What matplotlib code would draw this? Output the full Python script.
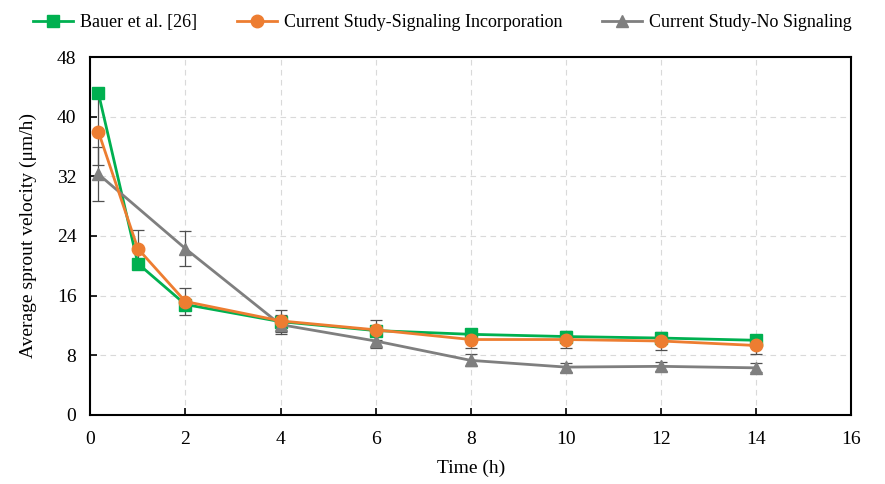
import numpy as np
import matplotlib.pyplot as plt

plt.rcParams['font.family'] = ['Liberation Serif', 'DejaVu Serif']

# data
t_bauer = [0.17, 1, 2, 4, 6, 8, 10, 12, 14]
v_bauer = [43.2, 20.3, 14.8, 12.5, 11.3, 10.8, 10.5, 10.3, 10.0]

t_sig = [0.17, 1, 2, 4, 6, 8, 10, 12, 14]
v_sig = [38.0, 22.3, 15.2, 12.6, 11.4, 10.1, 10.1, 9.9, 9.3]
e_sig = [4.5, 2.5, 1.8, 1.5, 1.3, 1.2, 1.2, 1.2, 1.2]

t_nosig = [0.17, 2, 4, 6, 8, 10, 12, 14]
v_nosig = [32.3, 22.3, 12.1, 9.9, 7.3, 6.4, 6.5, 6.3]
e_nosig = [3.6, 2.3, 1.3, 1.0, 0.8, 0.6, 0.6, 0.6]

fig = plt.figure(figsize=(8.85, 4.84), dpi=100)
ax = fig.add_axes([0.102, 0.143, 0.86, 0.739])

ax.errorbar(t_nosig, v_nosig, yerr=e_nosig, fmt='none', ecolor='#505050',
            elinewidth=0.9, capsize=4, capthick=0.9, zorder=2)
ax.errorbar(t_sig, v_sig, yerr=e_sig, fmt='none', ecolor='#505050',
            elinewidth=0.9, capsize=4, capthick=0.9, zorder=2)

ax.plot(t_bauer, v_bauer, color='#00b050', marker='s', markersize=9, lw=2,
        label='Bauer et al. [26]', zorder=3)
ax.plot(t_sig, v_sig, color='#ed7d31', marker='o', markersize=9, lw=2,
        label='Current Study-Signaling Incorporation', zorder=4)
ax.plot(t_nosig, v_nosig, color='#7f7f7f', marker='^', markersize=9, lw=2,
        label='Current Study-No Signaling', zorder=3)

ax.set_xlim(0, 16)
ax.set_ylim(0, 48)
ax.set_xticks(np.arange(0, 17, 2))
ax.set_yticks(np.arange(0, 49, 8))
ax.grid(True, ls=(0, (5, 4)), color='#d9d9d9', lw=0.8)
ax.set_axisbelow(True)
for s in ax.spines.values():
    s.set_linewidth(1.5)
ax.tick_params(direction='in', length=5, width=1.2, labelsize=14)
ax.tick_params(axis='x', pad=12)
ax.tick_params(axis='y', pad=10)

ax.set_xlabel('Time (h)', fontsize=14, labelpad=8)
ax.set_ylabel('Average sprout velocity (μm/h)', fontsize=14, labelpad=14)

fig.legend(loc='upper center', bbox_to_anchor=(0.5, 1.005), ncol=3,
           frameon=False, fontsize=13, handlelength=2.2, handletextpad=0.4,
           columnspacing=2.2)

fig.savefig('out.png', dpi=100)
